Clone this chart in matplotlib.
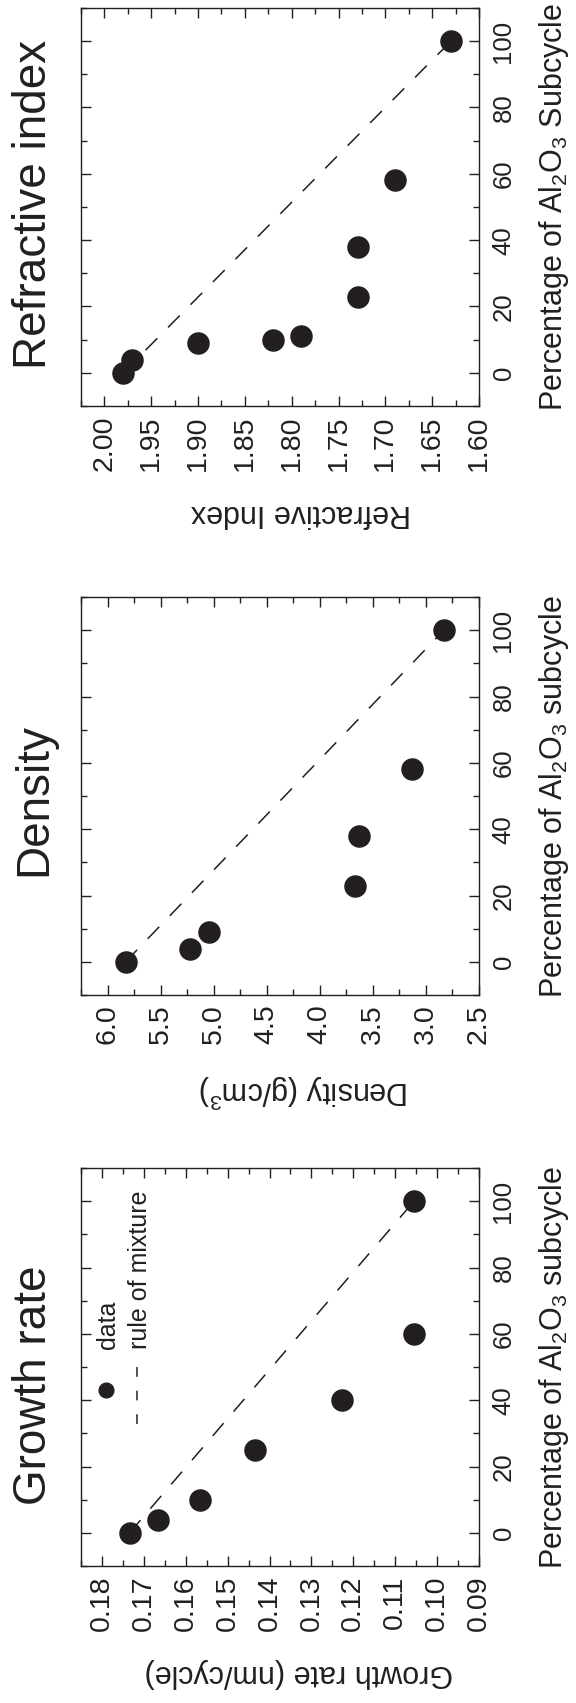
import matplotlib
matplotlib.use('Agg')
import matplotlib.pyplot as plt
from matplotlib.ticker import MultipleLocator, FormatStrFormatter

plt.rcParams['font.family'] = ['Liberation Sans', 'DejaVu Sans']
plt.rcParams['mathtext.fontset'] = 'custom'
plt.rcParams['mathtext.rm'] = 'Liberation Sans'
plt.rcParams['mathtext.it'] = 'Liberation Sans:italic'
plt.rcParams['mathtext.default'] = 'regular'
plt.rcParams['lines.scale_dashes'] = False

INK = '#231f20'

# growth rate vs. Al2O3 subcycle percentage
growth_pct = [0, 4, 10, 25, 40, 60, 100]
growth_rate = [0.1734, 0.1666, 0.1567, 0.1435, 0.1227, 0.1055, 0.1055]
growth_mix = [0.1734, 0.1055]

# density
density_pct = [0, 4, 9, 23, 38, 58, 100]
density = [5.83, 5.22, 5.04, 3.67, 3.63, 3.13, 2.83]
density_mix = [5.83, 2.83]

# refractive index
index_pct = [0, 4, 9, 10, 11, 23, 38, 58, 100]
refr_index = [1.980, 1.971, 1.900, 1.820, 1.790, 1.729, 1.729, 1.690, 1.630]
index_mix = [1.980, 1.630]

mix_pct = [0, 100]


def panel(ax, pct, vals, mix_vals, xlim, major, minor, fmt, title, xlabel, ylabel,
          title_y=0.5, xlabel_x=0.553):
    # the property runs along the horizontal axis, percentage up the right side
    ax.plot(mix_vals, mix_pct, ls='--', dashes=(12, 11), color=INK, lw=1.1, zorder=2)
    ax.plot(vals, pct, 'o', ms=15.2, color=INK, mec=INK, zorder=3, clip_on=False)
    ax.set_xlim(*xlim)
    ax.set_ylim(-10, 110)
    ax.xaxis.set_major_locator(MultipleLocator(major))
    ax.xaxis.set_minor_locator(MultipleLocator(minor))
    ax.xaxis.set_major_formatter(FormatStrFormatter(fmt))
    ax.yaxis.set_major_locator(MultipleLocator(20))
    ax.yaxis.set_minor_locator(MultipleLocator(10))
    ax.tick_params(which='both', direction='in', top=True, bottom=True,
                   left=True, right=True, labelleft=False, labelright=True,
                   colors=INK, width=1.0)
    ax.tick_params(which='major', length=7)
    ax.tick_params(which='minor', length=4)
    ax.tick_params(axis='x', labelrotation=90, pad=7, labelsize=20.5)
    ax.tick_params(axis='y', labelrotation=90, pad=9, labelsize=18.5)
    plt.setp(ax.get_yticklabels(), va='center')
    for s in ax.spines.values():
        s.set_color(INK)
        s.set_linewidth(1.0)

    ax.text(-0.088, title_y, title, transform=ax.transAxes, rotation=90,
            rotation_mode='anchor', ha='center', va='baseline',
            fontsize=33, color=INK)
    ax.set_xlabel(xlabel, rotation=180, fontsize=22, labelpad=19.5, x=xlabel_x, color=INK)
    ax.yaxis.set_label_position('right')
    ax.set_ylabel(ylabel, fontsize=22, labelpad=15.5, color=INK)


fig = plt.figure(figsize=(5.76, 17.03), dpi=100)
W, H = 576.0, 1703.0
left = 81 / W
width = 398 / W
height = 398 / H

ax_n = fig.add_axes([left, (H - 406) / H, width, height])
ax_d = fig.add_axes([left, (H - 995) / H, width, height])
ax_g = fig.add_axes([left, (H - 1566) / H, width, height])

panel(ax_g, growth_pct, growth_rate, growth_mix, (0.185, 0.09), 0.01, 0.005, '%.2f',
      'Growth rate', 'Growth rate (nm/cycle)',
      'Percentage of Al$_2$O$_3$ subcycle', title_y=0.455, xlabel_x=0.548)
panel(ax_d, density_pct, density, density_mix, (6.25, 2.5), 0.5, 0.25, '%.1f',
      'Density', 'Density (g/cm$^3$)',
      'Percentage of Al$_2$O$_3$ subcycle', title_y=0.492, xlabel_x=0.56)
panel(ax_n, index_pct, refr_index, index_mix, (2.025, 1.60), 0.05, 0.025, '%.2f',
      'Refractive index', 'Refractive Index',
      'Percentage of Al$_2$O$_3$ Subcycle', title_y=0.506)

# legend for the growth panel, laid out sideways like the rest of the text
ax_g.plot([0.064], [0.442], 'o', ms=10.6, color=INK, transform=ax_g.transAxes)
ax_g.plot([0.141, 0.141], [0.357, 0.50], dashes=(7, 10), color=INK, lw=1.1,
          transform=ax_g.transAxes)
ax_g.text(0.085, 0.546, 'data', transform=ax_g.transAxes, rotation=90,
          rotation_mode='anchor', ha='left', va='baseline', fontsize=18, color=INK)
ax_g.text(0.166, 0.546, 'rule of mixture', transform=ax_g.transAxes, rotation=90,
          rotation_mode='anchor', ha='left', va='baseline', fontsize=18, color=INK)

fig.savefig('out.png', dpi=100)
